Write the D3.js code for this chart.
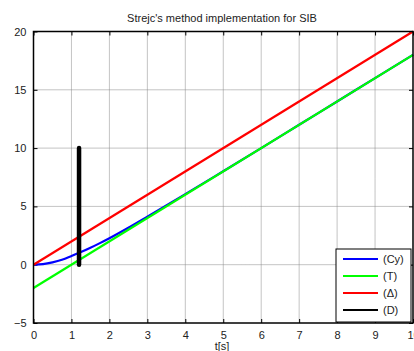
<!DOCTYPE html>
<html>
<head>
<meta charset="utf-8">
<script src="https://cdn.jsdelivr.net/npm/d3@7"></script>
<style>
  body { margin: 0; background: #fff; }
  svg { font-family: "Liberation Sans", Arial, sans-serif; }
  .grid line { stroke: #888; stroke-dasharray: 1,1; }
</style>
</head>
<body>
<svg id="chart" width="414" height="351"></svg>
<script>
// values
const tValues = [0, 0.25, 0.5, 0.75, 1, 1.25, 1.5, 1.75, 2, 2.5, 3, 3.5, 4, 5, 6, 7, 8, 9, 10];
const cyValues = [0, 0.05, 0.2, 0.42, 0.74, 1.08, 1.45, 1.85, 2.27, 3.17, 4.12, 5.08, 6.05, 8.02, 10.0, 12.0, 14.0, 16.0, 18.0];
const tLineX = [0, 10];
const tLineY = [-2, 18];
const deltaX = [0, 10];
const deltaY = [0, 20];
const dX = [1.2, 1.2];
const dY = [0, 10];
const xTicks = [0, 1, 2, 3, 4, 5, 6, 7, 8, 9, 10];
const yTicks = [-5, 0, 5, 10, 15, 20];
const legendLabels = ["(Cy)", "(T)", "(\u0394)", "(D)"];
const seriesColors = ["#0000ff", "#00ff00", "#ff0000", "#000000"];

const svg = d3.select("#chart");
const plotL = 33.5, plotR = 413, plotT = 31.5, plotB = 323;

const x = d3.scaleLinear().domain([0, 10]).range([plotL, plotR]);
const y = d3.scaleLinear().domain([-5, 20]).range([plotB, plotT]);

// grid
const grid = svg.append("g").attr("class", "grid");
grid.selectAll(".gx").data(xTicks.slice(1, -1)).enter().append("line")
    .attr("x1", d => x(d)).attr("x2", d => x(d))
    .attr("y1", plotT).attr("y2", plotB);
grid.selectAll(".gy").data(yTicks.slice(1, -1)).enter().append("line")
    .attr("x1", plotL).attr("x2", plotR)
    .attr("y1", d => y(d)).attr("y2", d => y(d));

// axes, ticks pointing inward
svg.append("g")
    .attr("transform", `translate(0,${plotB})`)
    .call(d3.axisBottom(x).tickValues(xTicks).tickSize(-4).tickPadding(8).tickSizeOuter(0))
    .call(g => g.select(".domain").remove());
svg.append("g")
    .attr("transform", `translate(${plotL},0)`)
    .call(d3.axisLeft(y).tickValues(yTicks).tickSize(-4).tickPadding(7).tickSizeOuter(0))
    .call(g => g.select(".domain").remove());
svg.append("g")
    .attr("transform", `translate(0,${plotT})`)
    .call(d3.axisTop(x).tickValues(xTicks).tickSize(-4).tickFormat(""))
    .call(g => g.select(".domain").remove());
svg.append("g")
    .attr("transform", `translate(${plotR},0)`)
    .call(d3.axisRight(y).tickValues(yTicks).tickSize(-4).tickFormat(""))
    .call(g => g.select(".domain").remove());
svg.selectAll(".tick text").attr("font-size", 11).attr("fill", "#222")
    .attr("font-family", "Liberation Sans, Arial, sans-serif");

// series
const line = d3.line().x(d => x(d[0])).y(d => y(d[1]));
const series = [
    d3.zip(tValues, cyValues),
    d3.zip(tLineX, tLineY),
    d3.zip(deltaX, deltaY),
    d3.zip(dX, dY)
];
const plot = svg.append("g");
plot.append("path").datum(series[0]).attr("d", d3.line().x(d => x(d[0])).y(d => y(d[1])).curve(d3.curveMonotoneX))
    .attr("fill", "none").attr("stroke", seriesColors[0]).attr("stroke-width", 2.2);
plot.append("path").datum(series[1]).attr("d", line)
    .attr("fill", "none").attr("stroke", seriesColors[1]).attr("stroke-width", 2.2);
plot.append("path").datum(series[2]).attr("d", line)
    .attr("fill", "none").attr("stroke", seriesColors[2]).attr("stroke-width", 2.2);
plot.append("path").datum(series[3]).attr("d", line)
    .attr("fill", "none").attr("stroke", seriesColors[3]).attr("stroke-width", 4.5)
    .attr("stroke-linecap", "round");

// frame
svg.append("rect")
    .attr("x", plotL).attr("y", plotT)
    .attr("width", plotR - plotL).attr("height", plotB - plotT)
    .attr("fill", "none").attr("stroke", "#000").attr("stroke-width", 1.5);

// title and label
svg.append("text").attr("x", 222).attr("y", 22).attr("text-anchor", "middle")
    .attr("font-size", 11).attr("fill", "#222")
    .text("Strejc's method implementation for SIB");
svg.append("text").attr("x", 222).attr("y", 350).attr("text-anchor", "middle")
    .attr("font-size", 11).attr("fill", "#222")
    .text("t[s]");

// legend
const legend = svg.append("g").attr("transform", "translate(336,249)");
legend.append("rect").attr("width", 75).attr("height", 73)
    .attr("fill", "#fff").attr("stroke", "#000").attr("stroke-width", 1);
legendLabels.forEach((lab, i) => {
    const ly = 10 + i * 17;
    legend.append("line").attr("x1", 7).attr("x2", 42).attr("y1", ly).attr("y2", ly)
        .attr("stroke", seriesColors[i]).attr("stroke-width", 2.2);
    legend.append("text").attr("x", 47).attr("y", ly + 4)
        .attr("font-size", 11).attr("fill", "#222").text(lab);
});
</script>
</body>
</html>
